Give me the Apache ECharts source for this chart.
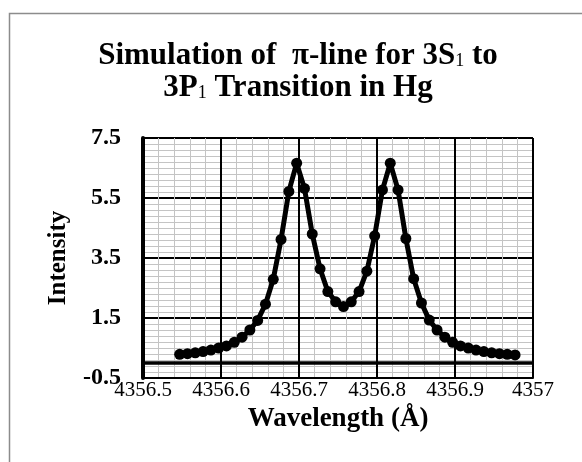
<!DOCTYPE html>
<html>
<head>
<meta charset="utf-8">
<script src="https://cdn.jsdelivr.net/npm/echarts@6/dist/echarts.min.js"></script>
<style>
  html, body { margin: 0; padding: 0; background: #fff; }
  #chart { width: 582px; height: 462px; }
</style>
</head>
<body>
<div id="chart"></div>
<script>
// wavelength (Å) of each simulated point
var wavelength = [
  4356.547, 4356.557, 4356.567, 4356.577, 4356.587, 4356.597, 4356.607, 4356.617,
  4356.627, 4356.637, 4356.647, 4356.657, 4356.667, 4356.677, 4356.687, 4356.697,
  4356.707, 4356.717, 4356.727, 4356.737, 4356.747, 4356.757, 4356.767, 4356.777,
  4356.787, 4356.797, 4356.807, 4356.817, 4356.827, 4356.837, 4356.847, 4356.857,
  4356.867, 4356.877, 4356.887, 4356.897, 4356.907, 4356.917, 4356.927, 4356.937,
  4356.947, 4356.957, 4356.967, 4356.977
];
// intensity
var intensity = [
  0.29, 0.31, 0.34, 0.38, 0.43, 0.50, 0.57, 0.69,
  0.86, 1.10, 1.42, 1.96, 2.79, 4.12, 5.72, 6.66,
  5.82, 4.30, 3.14, 2.38, 2.04, 1.88, 2.04, 2.38,
  3.06, 4.24, 5.77, 6.66, 5.77, 4.15, 2.81, 2.00,
  1.43, 1.10, 0.86, 0.69, 0.57, 0.50, 0.43, 0.38,
  0.34, 0.31, 0.29, 0.27
];
var xTicks = { min: 4356.5, max: 4357, step: 0.1 };
var yTicks = { min: -0.5, max: 7.5, step: 2 };

var points = [];
for (var i = 0; i < wavelength.length; i++) {
  points.push([wavelength[i], intensity[i]]);
}

var serif = '"Liberation Serif", "Times New Roman", serif';
var chart = echarts.init(document.getElementById('chart'));

var option = {
  animation: false,
  backgroundColor: '#fff',
  graphic: [{
    type: 'rect',
    left: 7, top: 11,
    shape: { width: 600, height: 500 },
    style: { fill: 'none', stroke: '#8c8c8c', lineWidth: 1.5 },
    z: -1
  }],
  title: {
    text: 'Simulation of  π-line for 3S{s|1} to\n3P{s|1} Transition in Hg',
    left: 293,
    top: 35,
    textAlign: 'center',
    textStyle: {
      fontFamily: serif,
      fontWeight: 'bold',
      fontSize: 31,
      lineHeight: 32,
      color: '#000',
      rich: {
        s: { fontFamily: serif, fontSize: 18, fontWeight: 'normal', color: '#000', lineHeight: 32, verticalAlign: 'bottom', padding: [0, 0, 2, 0] }
      }
    }
  },
  grid: { left: 143, right: 49, top: 138, bottom: 84, containLabel: false },
  xAxis: {
    type: 'value',
    min: xTicks.min, max: xTicks.max, interval: xTicks.step,
    name: 'Wavelength (Å)',
    nameLocation: 'middle',
    nameGap: 27,
    nameTextStyle: { fontFamily: serif, fontWeight: 'bold', fontSize: 27, color: '#000' },
    axisLine: { show: true, onZero: false, lineStyle: { color: '#000', width: 2 } },
    axisTick: { show: false },
    axisLabel: {
      margin: 2,
      fontFamily: serif, fontSize: 21, color: '#000',
      formatter: function (v) { return String(+v.toFixed(1)); }
    },
    splitLine: { show: true, lineStyle: { color: '#000', width: 2 } },
    minorTick: { show: false, splitNumber: 5 },
    minorSplitLine: { show: true, lineStyle: { color: '#c4c4c4', width: 1 } }
  },
  yAxis: {
    type: 'value',
    min: yTicks.min, max: yTicks.max, interval: yTicks.step,
    name: 'Intensity',
    nameLocation: 'middle',
    nameGap: 72,
    nameTextStyle: { fontFamily: serif, fontWeight: 'bold', fontSize: 25, color: '#000' },
    axisLine: { show: true, onZero: false, lineStyle: { color: '#000', width: 4 } },
    axisTick: { show: false },
    axisLabel: {
      margin: 22,
      fontFamily: serif, fontWeight: 'bold', fontSize: 24, color: '#000',
      formatter: function (v) { return v.toFixed(1); }
    },
    splitLine: { show: true, lineStyle: { color: '#000', width: 2 } },
    minorTick: { show: false, splitNumber: 10 },
    minorSplitLine: { show: true, lineStyle: { color: '#c4c4c4', width: 1 } }
  },
  series: [{
    type: 'line',
    data: points,
    symbol: 'circle',
    symbolSize: 11,
    showSymbol: true,
    lineStyle: { color: '#000', width: 5 },
    itemStyle: { color: '#000' },
    z: 5,
    markLine: {
      silent: true,
      symbol: 'none',
      label: { show: false },
      lineStyle: { color: '#000', width: 3.5, type: 'solid' },
      data: [{ yAxis: 0 }],
      z: 3
    }
  }]
};
chart.setOption(option);
</script>
</body>
</html>
